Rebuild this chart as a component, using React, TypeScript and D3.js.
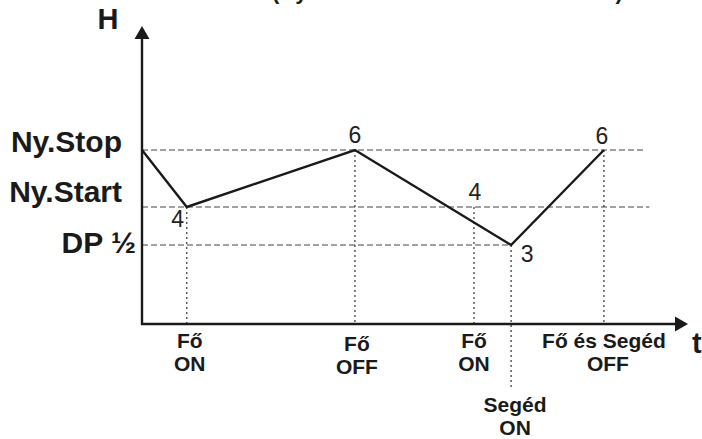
import React from "react";
import * as d3 from "d3";

// ---- data ----
const levelNames = ["Ny.Stop", "Ny.Start", "DP ½"];
const levelValues = [6, 4, 3];

const lineTimes = [0, 8.2, 39, 67.6, 84.6];
const lineValues = [6, 4, 6, 3, 6];

const eventTimes = [8.2, 39, 60.8, 67.6, 84.6];
const eventLevels = [4, 6, 4, 3, 6];
const eventLine1 = ["Fő", "Fő", "Fő", "Segéd", "Fő és Segéd"];
const eventLine2 = ["ON", "OFF", "ON", "ON", "OFF"];

const pointLabelTimes = [8.2, 39, 60.8, 67.6, 84.6];
const pointLabelValues = [4, 6, 4, 3, 6];
const pointLabelTexts = ["4", "6", "4", "3", "6"];

const titleText = "(Nyomás változása az idő szerint)";

const W = 702;
const H = 439;
const FONT = "'Liberation Sans', Arial, Helvetica, sans-serif";

export default function App() {
  const x = d3.scaleLinear().domain([0, 100]).range([142, 688]);
  const y = d3.scaleLinear().domain([0, 3, 4, 6]).range([324, 245, 207, 150]);

  const line = d3
    .line<number>()
    .x((_, i) => x(lineTimes[i]))
    .y((d) => y(d));

  const x0 = x(0);
  const y0 = y(0);
  const topEnd = x(92);
  const minT = lineTimes[lineValues.indexOf(d3.min(lineValues) as number)];

  // offsets (style) for point labels
  const plOff: [number, number][] = [
    [-9, 20],
    [0, -7],
    [1, -7],
    [16, 17],
    [-2, -6],
  ];
  const evOff: [number, number][] = [
    [3, 0],
    [2, 3],
    [0, 0],
    [4, 0],
    [0, 0],
  ];

  return (
    <svg
      width={W}
      height={H}
      style={{ position: "absolute", left: 0, top: 0, background: "#fff" }}
      fontFamily={FONT}
    >
      <rect x={0} y={0} width={W} height={H} fill="#fff" />
      {/* title, cut off at the top edge as in the reference */}
      <text x={272} y={-1} fontSize={22} fontWeight="bold" fill="#1a1a1a">
        {titleText}
      </text>

      {/* horizontal dashed level lines */}
      {levelValues.map((v, i) => (
        <line
          key={"h" + i}
          x1={x0}
          x2={v === d3.min(levelValues) ? x(minT) : topEnd + (i === 1 ? 5 : 0)}
          y1={y(v)}
          y2={y(v)}
          stroke="#444"
          strokeWidth={1}
          strokeDasharray="6,3"
        />
      ))}

      {/* vertical dotted event lines */}
      {eventTimes.map((t, i) => (
        <line
          key={"v" + i}
          x1={x(t)}
          x2={x(t)}
          y1={y(eventLevels[i])}
          y2={eventLine1[i] === "Segéd" ? 390 : y0}
          stroke="#333"
          strokeWidth={1.2}
          strokeDasharray="2,3"
        />
      ))}

      {/* level labels */}
      {levelNames.map((n, i) => (
        <text
          key={"l" + i}
          x={i === 2 ? 136 : 122}
          y={y(levelValues[i]) + (i === 2 ? 8 : i === 1 ? -5 : 2)}
          textAnchor="end"
          fontSize={30}
          fontWeight="bold"
          fill="#1a1a1a"
        >
          {n}
        </text>
      ))}

      {/* axes */}
      <line x1={x0} x2={x0} y1={y0 + 1} y2={36} stroke="#1a1a1a" strokeWidth={2.4} />
      <path d={`M${x0},26 L${x0 - 7.5},39 L${x0 + 7.5},39 Z`} fill="#1a1a1a" />
      <line x1={x0 - 1} x2={678} y1={y0} y2={y0} stroke="#1a1a1a" strokeWidth={2.4} />
      <path d={`M${x(100)},${y0} L${x(100) - 13},${y0 - 7.5} L${x(100) - 13},${y0 + 7.5} Z`} fill="#1a1a1a" />
      <text x={108} y={29} textAnchor="middle" fontSize={29} fontWeight="bold" fill="#1a1a1a">
        H
      </text>
      <text x={692} y={353} fontSize={29} fontWeight="bold" fill="#1a1a1a">
        t
      </text>

      {/* pressure curve */}
      <path d={line(lineValues) || ""} fill="none" stroke="#1a1a1a" strokeWidth={2.4} strokeLinejoin="miter" />

      {/* point labels */}
      {pointLabelTexts.map((s, i) => (
        <text
          key={"p" + i}
          x={x(pointLabelTimes[i]) + plOff[i][0]}
          y={y(pointLabelValues[i]) + plOff[i][1]}
          textAnchor="middle"
          fontSize={23}
          fill="#222"
        >
          {s}
        </text>
      ))}

      {/* event labels */}
      {eventTimes.map((t, i) => {
        const low = eventLine1[i] === "Segéd";
        const b1 = (low ? 412 : 348) + evOff[i][1];
        return (
          <g key={"e" + i} fontSize={21} fontWeight="bold" fill="#1a1a1a" textAnchor="middle">
            <text x={x(t) + evOff[i][0]} y={b1}>
              {eventLine1[i]}
            </text>
            <text x={x(t) + evOff[i][0] + (i === 4 ? 4 : 0)} y={b1 + 23}>
              {eventLine2[i]}
            </text>
          </g>
        );
      })}
    </svg>
  );
}
